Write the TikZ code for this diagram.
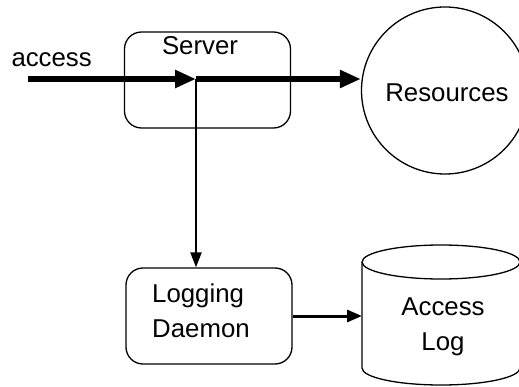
\documentclass[tikz,border=0pt]{standalone}
\usepackage{fontspec}
\setmainfont{Liberation Sans}
\usetikzlibrary{arrows.meta}
\begin{document}
\begin{tikzpicture}[x=1pt,y=1pt,
  every node/.style={font=\fontsize{25.8}{34.5}\selectfont, inner sep=0pt},
  procbox/.style={draw, line width=1.3pt, rounded corners=17pt, minimum width=166pt, minimum height=96pt},
  thickarrow/.style={line width=5.5pt, -{Triangle[length=21pt,width=17pt]}},
  thinarrow/.style={line width=2.2pt, -{Triangle[length=15pt,width=11pt]}},
  medarrow/.style={line width=3pt, -{Triangle[length=15pt,width=12pt]}}
]
\useasboundingbox (0,0) rectangle (519,386);
% nodes
\node[procbox] (server) at (207.5,306) {};
\node[anchor=base] (servertxt) at (200,331) {Server};
\node[draw, circle, line width=1.3pt, minimum size=167pt] (res) at (445,295.5) {};
\node[anchor=base] (restxt) at (447,284) {Resources};
\node[procbox] (logd) at (209,70) {};
\node[anchor=base west, align=left] (logtxt) at (152,49) {Logging\\Daemon};
\node[anchor=base east] (acctxt) at (92,319) {access};
% cylinder
\coordinate (cylw) at (362,70);
\draw[line width=1.3pt] (362,124) -- (362,18) arc[start angle=180, end angle=360, x radius=79pt, y radius=17pt] -- (520,124);
\draw[line width=1.3pt] (441,124) ellipse[x radius=79pt, y radius=17pt];
\node[anchor=base, align=center] (logfile) at (443,36) {Access\\Log};
% connectors
\coordinate (in) at (28,307);
\coordinate (mid) at (196,307);
\draw[thickarrow] (in) -- (mid);
\draw[thickarrow] (mid) -- (mid -| res.west);
\draw[thinarrow] (mid) -- (mid |- logd.north);
\draw[medarrow] (logd.east) -- (cylw);
\end{tikzpicture}
\end{document}
